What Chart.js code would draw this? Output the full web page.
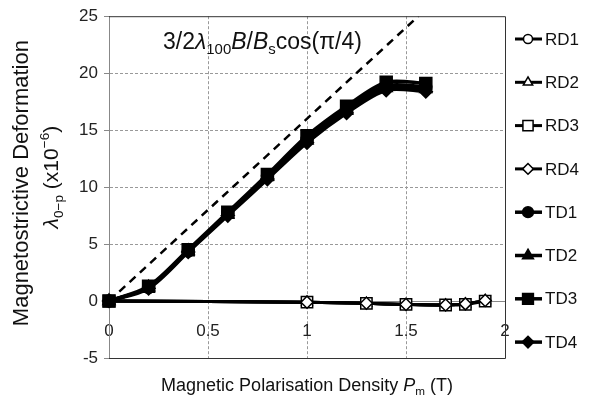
<!DOCTYPE html>
<html>
<head>
<meta charset="utf-8">
<script src="https://cdn.jsdelivr.net/npm/chart.js@4/dist/chart.umd.min.js"></script>
<style>
  html, body { margin: 0; padding: 0; background: #fff; }
</style>
</head>
<body>
<canvas id="chart" width="592" height="401"></canvas>
<script>
// polarisation (T) for the two sets of measurements
const tdPolarisation = [0, 0.2, 0.4, 0.6, 0.8, 1.0, 1.2, 1.4, 1.6];
const rdPolarisation = [0, 1.0, 1.3, 1.5, 1.7, 1.8, 1.9];

// lambda 0-p (x10^-6)
const td1 = [0, 1.2, 4.4, 7.7, 11.0, 14.2, 16.9, 18.9, 18.8];
const td2 = [0, 1.2, 4.4, 7.6, 10.9, 14.1, 16.7, 18.7, 18.6];
const td3 = [0, 1.3, 4.5, 7.8, 11.1, 14.5, 17.1, 19.2, 19.1];
const td4 = [0, 1.1, 4.3, 7.5, 10.7, 13.9, 16.5, 18.5, 18.4];
const rd1 = [0, -0.1, -0.2, -0.3, -0.35, -0.25, 0.05];
const rd2 = [0, -0.1, -0.2, -0.3, -0.35, -0.25, 0.05];
const rd3 = [0, -0.1, -0.2, -0.3, -0.35, -0.3, 0.0];
const rd4 = [0, -0.1, -0.2, -0.3, -0.35, -0.25, 0.05];

// theoretical line 3/2 lambda100 B/Bs cos(pi/4)
const theoryX = [0, 1.5625];
const theoryY = [0, 25];

const xTicks = [0, 0.5, 1, 1.5, 2];
const yTicks = [-5, 0, 5, 10, 15, 20, 25];

const FONT = "'Liberation Sans', Arial, sans-serif";

function pts(xs, ys) {
    return xs.map((x, i) => ({ x: x, y: ys[i] }));
}

function series(label, xs, ys, style, filled, radius, width, order) {
    return {
        label: label,
        data: pts(xs, ys),
        borderColor: '#000',
        borderWidth: width,
        backgroundColor: filled ? '#000' : '#fff',
        pointStyle: style,
        pointRadius: radius,
        pointBorderWidth: 1.5,
        pointBorderColor: '#000',
        pointBackgroundColor: filled ? '#000' : '#fff',
        tension: 0.3,
        clip: 12,
        order: order
    };
}

const datasets = [
    series('RD1', rdPolarisation, rd1, 'circle', false, 5, 3, 6),
    series('RD2', rdPolarisation, rd2, 'triangle', false, 6, 3, 5),
    series('RD3', rdPolarisation, rd3, 'rect', false, 8, 3, 4),
    series('RD4', rdPolarisation, rd4, 'rectRot', false, 6, 3, 3),
    series('TD1', tdPolarisation, td1, 'circle', true, 6, 3.5, 4),
    series('TD2', tdPolarisation, td2, 'triangle', true, 7, 3.5, 3),
    series('TD3', tdPolarisation, td3, 'rect', true, 8.5, 3.5, 1),
    series('TD4', tdPolarisation, td4, 'rectRot', true, 6.5, 3.5, 2),
    {
        label: 'theory',
        data: pts(theoryX, theoryY),
        borderColor: '#000',
        borderWidth: 2.5,
        borderDash: [8, 6],
        pointRadius: 0,
        tension: 0,
        order: 9
    }
];

// draw a line of text with italic / sub / superscript parts
function richWidth(ctx, parts, size) {
    let w = 0;
    parts.forEach(p => {
        const s = p.sub || p.sup ? size * 0.65 : size;
        ctx.font = (p.it ? 'italic ' : '') + s + 'px ' + FONT;
        w += ctx.measureText(p.t).width;
    });
    return w;
}
function drawRich(ctx, parts, x, y, size, align) {
    let cx = x;
    if (align === 'center') cx = x - richWidth(ctx, parts, size) / 2;
    ctx.textBaseline = 'alphabetic';
    ctx.textAlign = 'left';
    parts.forEach(p => {
        const s = p.sub || p.sup ? size * 0.65 : size;
        ctx.font = (p.it ? 'italic ' : '') + s + 'px ' + FONT;
        let dy = 0;
        if (p.sub) dy = size * 0.22;
        if (p.sup) dy = -size * 0.42;
        ctx.fillText(p.t, cx, y + dy);
        cx += ctx.measureText(p.t).width;
    });
}

const decorPlugin = {
    id: 'decor',
    afterDraw(chart) {
        const ctx = chart.ctx;
        const a = chart.chartArea;
        ctx.save();

        // plot frame
        ctx.strokeStyle = '#333';
        ctx.lineWidth = 1;
        ctx.beginPath();
        ctx.moveTo(a.left, a.top + 0.5);
        ctx.lineTo(a.right + 0.5, a.top + 0.5);
        ctx.lineTo(a.right + 0.5, a.bottom + 0.5);
        ctx.lineTo(a.left, a.bottom + 0.5);
        ctx.stroke();

        ctx.fillStyle = '#111';

        // annotation for the dashed line
        drawRich(ctx, [
            { t: '3/2' }, { t: 'λ', it: true }, { t: '100', sub: true },
            { t: 'B', it: true }, { t: '/' }, { t: 'B', it: true }, { t: 's', sub: true },
            { t: 'cos(π/4)' }
        ], a.left + 54, a.top + 33, 23, 'left');

        // x axis title
        drawRich(ctx, [
            { t: 'Magnetic Polarisation Density ' }, { t: 'P', it: true }, { t: 'm', sub: true }, { t: ' (T)' }
        ], (a.left + a.right) / 2, 391, 18, 'center');

        // y axis title
        const midY = (a.top + a.bottom) / 2;
        ctx.save();
        ctx.translate(28, midY - 4);
        ctx.rotate(-Math.PI / 2);
        drawRich(ctx, [{ t: 'Magnetostrictive Deformation' }], 0, 0, 22, 'center');
        ctx.restore();
        ctx.save();
        ctx.translate(58, midY - 10);
        ctx.rotate(-Math.PI / 2);
        drawRich(ctx, [
            { t: 'λ', it: true }, { t: '0−p', sub: true }, { t: ' (x10' }, { t: '−6', sup: true }, { t: ')' }
        ], 0, 0, 21, 'center');
        ctx.restore();

        // legend
        const legendX = 515, legendY = 39, step = 43.3;
        chart.data.datasets.slice(0, 8).forEach((ds, i) => {
            const y = legendY + i * step;
            ctx.strokeStyle = '#000';
            ctx.lineWidth = ds.borderWidth;
            ctx.beginPath();
            ctx.moveTo(legendX, y);
            ctx.lineTo(legendX + 27, y);
            ctx.stroke();
            ctx.fillStyle = ds.pointBackgroundColor;
            ctx.lineWidth = 1.5;
            Chart.helpers.drawPoint(ctx, {
                pointStyle: ds.pointStyle,
                radius: ds.pointRadius * 0.9,
                rotation: 0,
                borderWidth: 1.5
            }, legendX + 13, y);
            ctx.fillStyle = '#111';
            ctx.font = '17px ' + FONT;
            ctx.textAlign = 'left';
            ctx.textBaseline = 'middle';
            ctx.fillText(ds.label, legendX + 30, y + 1);
        });

        ctx.restore();
    }
};

new Chart(document.getElementById('chart'), {
    type: 'line',
    data: { datasets: datasets },
    plugins: [decorPlugin],
    options: {
        responsive: false,
        animation: false,
        devicePixelRatio: 1,
        layout: { padding: { top: 16, right: 87, bottom: 43, left: 0 } },
        plugins: { legend: { display: false }, tooltip: { enabled: false } },
        scales: {
            x: {
                type: 'linear',
                position: { y: 0 },
                min: 0, max: 2,
                afterBuildTicks: s => { s.ticks = xTicks.map(v => ({ value: v })); },
                grid: {
                    color: c => (c.tick && c.tick.value > 0 && c.tick.value < 2) ? '#999' : 'rgba(0,0,0,0)',
                    drawTicks: false
                },
                border: { color: '#888', width: 1, dash: [3, 2] },
                ticks: {
                    padding: 20,
                    color: '#222',
                    font: { family: FONT, size: 17 },
                    callback: v => String(v)
                }
            },
            y: {
                type: 'linear',
                min: -5, max: 25,
                afterBuildTicks: s => { s.ticks = yTicks.map(v => ({ value: v })); },
                afterFit: s => { s.width = 109; },
                grid: {
                    color: c => (c.tick && c.tick.value > 0 && c.tick.value < 25) ? '#999' : 'rgba(0,0,0,0)',
                    tickLength: 5,
                    tickColor: '#888'
                },
                border: { color: '#888', width: 1, dash: [3, 2] },
                ticks: {
                    padding: 6,
                    color: '#222',
                    font: { family: FONT, size: 17 },
                    callback: v => String(v)
                }
            }
        }
    }
});
</script>
</body>
</html>
